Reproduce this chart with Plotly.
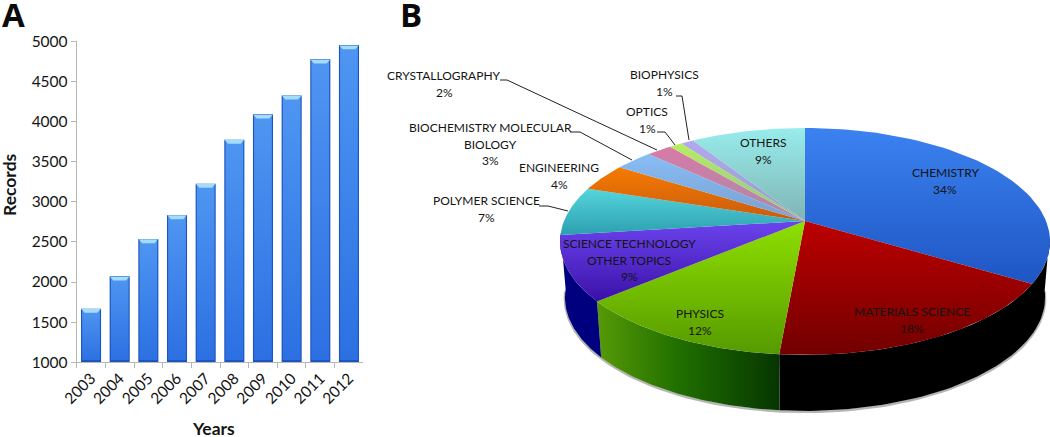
import math
import plotly.graph_objects as go

W, H = 1050, 437
FONT = "Lato"
INK = "#141414"

# ---- data ----
years = ["2003", "2004", "2005", "2006", "2007", "2008", "2009", "2010", "2011", "2012"]
records = [1668, 2071, 2536, 2835, 3226, 3774, 4090, 4326, 4775, 4953]
y_ticks = [1000, 1500, 2000, 2500, 3000, 3500, 4000, 4500, 5000]

subjects = ["CHEMISTRY", "MATERIALS SCIENCE", "PHYSICS", "SCIENCE TECHNOLOGY<br>OTHER TOPICS",
            "POLYMER SCIENCE", "ENGINEERING", "BIOCHEMISTRY MOLECULAR<br>BIOLOGY",
            "CRYSTALLOGRAPHY", "OPTICS", "BIOPHYSICS", "OTHERS"]
shares = [33.7, 17.7, 12.4, 9.2, 7.0, 4.0, 3.0, 2.0, 1.0, 1.0, 9.0]

# ---- styles ----
top_colors = ["#3b82f0", "#bd0000", "#8fe000", "#6c44ee", "#55d5dc", "#f57b00",
              "#88bdf5", "#d87aa8", "#b8ee60", "#b4a8f0", "#98ecec"]
low_colors = ["#1e56c4", "#720000", "#569a00", "#3b10a8", "#2c9fb0", "#c95b10",
              "#78a0d0", "#a98aa8", "#90c090", "#90a0c0", "#80b4b4"]
# label centre (pixels) for each subject
label_xy = [(945, 181), (912, 320), (700, 322), (629, 260), (486, 209), (559, 176),
            (490, 144), (444, 84), (647, 120), (664, 83), (763, 151)]
# leader polylines (pixels), keyed by subject index
leaders = {4: [(539, 206), (548, 206), (568, 211)],
           6: [(570, 132), (580, 132), (632, 160)],
           7: [(500, 80), (507, 80), (657, 150)],
           8: [(657, 132), (665, 132), (675, 145)],
           9: [(676, 96), (682, 96), (689, 140)]}
LINE_GAP = 16.7

# pie projection (circle seen in perspective)
APEX_X, APEX_Y = 805, 221
RX, RY, PERSP = 241, 109.8, 0.18
DEPTH, BOTTOM_SCALE = 56, 0.98


def project(theta, r=1.0):
    u, v = r * math.sin(theta), r * math.cos(theta)
    d = 1 + PERSP * v
    return APEX_X + RX * u / d, APEX_Y - RY * v / d


def arc(a, b, n=60):
    return [project(a + (b - a) * i / n) for i in range(n + 1)]


def lower(p):
    return APEX_X + (p[0] - APEX_X) * BOTTOM_SCALE, p[1] + DEPTH


fig = go.Figure()

# ---- A: bars ----
fig.add_trace(go.Bar(x=years, y=records, width=0.70, marker=dict(color="#1c55bd", line_width=0),
                     xaxis="x", yaxis="y", showlegend=False))
HALF = 0.31
for i, v in enumerate(records):
    fig.add_trace(go.Scatter(
        x=[i - HALF, i + HALF, i + HALF, i - HALF, i - HALF],
        y=[1030, 1030, v - 20, v - 20, 1030], mode="lines", line_width=0, fill="toself",
        fillgradient=dict(type="vertical", start=v, stop=1000,
                          colorscale=[[0, "#4f96f2"], [1, "#2c6fe2"]]),
        xaxis="x3", yaxis="y", hoverinfo="skip", showlegend=False))
    fig.add_trace(go.Scatter(
        x=[i - 0.34, i + 0.34, i + 0.22, i - 0.22, i - 0.34],
        y=[v - 4, v - 4, v - 52, v - 52, v - 4], mode="lines", line_width=0, fill="toself",
        fillcolor="#a4dcfb", xaxis="x3", yaxis="y", hoverinfo="skip", showlegend=False))

# ---- B: pie ----
cum = [0.0]
for s in shares:
    cum.append(cum[-1] + s)
ang = [c / 100 * 2 * math.pi for c in cum]


def add_poly(pts, grad=None, color=None):
    xs = [p[0] for p in pts] + [pts[0][0]]
    ys = [p[1] for p in pts] + [pts[0][1]]
    kw = dict(fillgradient=grad) if grad else dict(fillcolor=color)
    fig.add_trace(go.Scatter(x=xs, y=ys, mode="lines", fill="toself",
                             line=dict(width=0, color="rgba(0,0,0,0)"),
                             xaxis="x2", yaxis="y2", hoverinfo="skip", showlegend=False, **kw))


def wall(a, b, grad=None, color=None):
    top = arc(a, b)
    add_poly(top + [lower(p) for p in reversed(top)], grad=grad, color=color)


# soft shadow below the wall
edge = [lower(p) for p in arc(math.radians(97), math.radians(263), 120)]
fig.add_trace(go.Scatter(x=[p[0] for p in edge], y=[p[1] + 1 for p in edge], mode="lines",
                         line=dict(color="#b5b5b5", width=2.5), xaxis="x2", yaxis="y2",
                         hoverinfo="skip", showlegend=False))

# side walls
wall(math.radians(97), ang[2], color="#000000")
pa, pb = project(ang[3]), project(ang[2])
wall(ang[2], ang[3], grad=dict(type="horizontal", start=pa[0], stop=pb[0],
                               colorscale=[[0, "#579a06"], [0.45, "#206f00"], [1, "#063600"]]))
wall(ang[3], ang[4] + 0.02, color="#00007e")

# top faces
for i in range(len(shares)):
    pts = [(APEX_X, APEX_Y)] + arc(ang[i], ang[i + 1])
    ymin, ymax = min(p[1] for p in pts), max(p[1] for p in pts)
    add_poly(pts, grad=dict(type="vertical", start=ymin, stop=ymax,
                            colorscale=[[0, top_colors[i]], [1, low_colors[i]]]))

# ---- annotations ----
def paper(p):
    return p[0] / W, 1 - p[1] / H


def note(xy, text, font, **kw):
    x, y = paper(xy)
    return dict(x=x, y=y, xref="paper", yref="paper", showarrow=False, xanchor="center",
                yanchor="middle", text=text, font=font, **kw)


annotations = []
label_font = dict(family=FONT, size=12, color=INK)
for name, s, xy in zip(subjects, shares, label_xy):
    lines = name.split("<br>") + [f"{round(s)}%"]
    for j, line in enumerate(lines):
        yy = xy[1] + (j - (len(lines) - 1) / 2) * LINE_GAP
        annotations.append(note((xy[0], yy), line, label_font))
for letter, xy in (("A", (13, 14)), ("B", (411, 14))):
    annotations.append(note(xy, f"<b>{letter}</b>", dict(family="Open Sans", size=33, color="#0a0a0a"),
                            height=26, borderpad=0))
title_font = dict(family=FONT, size=17.5, color=INK)
annotations.append(note((213, 428), "<b>Years</b>", title_font, height=16, borderpad=0))
annotations.append(note((9, 185), "<b>Records</b>", title_font, textangle=-90, height=16, borderpad=0))

shapes = []
for pts in leaders.values():
    for a, b in zip(pts, pts[1:]):
        xa, ya = paper(a)
        xb, yb = paper(b)
        shapes.append(dict(type="line", xref="paper", yref="paper", x0=xa, y0=ya, x1=xb, y1=yb,
                           line=dict(color="#222222", width=1)))

axis_grey = "#b4b8ba"
tick_font = dict(family=FONT, size=15.5, color=INK)
fig.update_layout(
    width=W, height=H, margin=dict(l=0, r=0, t=0, b=0, autoexpand=False), paper_bgcolor="white",
    plot_bgcolor="rgba(0,0,0,0)",
    bargap=0.3, showlegend=False, annotations=annotations, shapes=shapes,
    xaxis=dict(type="category", domain=[76.7 / W, 363.3 / W], anchor="y", tickson="boundaries",
               ticks="outside", ticklen=5, tickcolor=axis_grey, showline=True, linecolor=axis_grey,
               showgrid=False, tickangle=-45, tickfont=tick_font),
    yaxis=dict(domain=[1 - 362.3 / H, 1 - 41.3 / H], range=[1000, 5000], anchor="x", tickvals=y_ticks,
               ticks="outside", ticklen=5, tickcolor=axis_grey, showline=True, linecolor=axis_grey,
               showgrid=False, zeroline=False, tickfont=tick_font),
    xaxis3=dict(domain=[76.7 / W, 363.3 / W], range=[-0.5, 9.5], overlaying="x", anchor="y", visible=False),
    xaxis2=dict(domain=[0.5, 1], range=[W / 2, W], anchor="y2", visible=False),
    yaxis2=dict(domain=[0, 1], range=[H, 0], anchor="x2", visible=False),
)

fig.write_html("out.html", config=dict(displayModeBar=False),
               post_script="document.body.style.margin='0';")
